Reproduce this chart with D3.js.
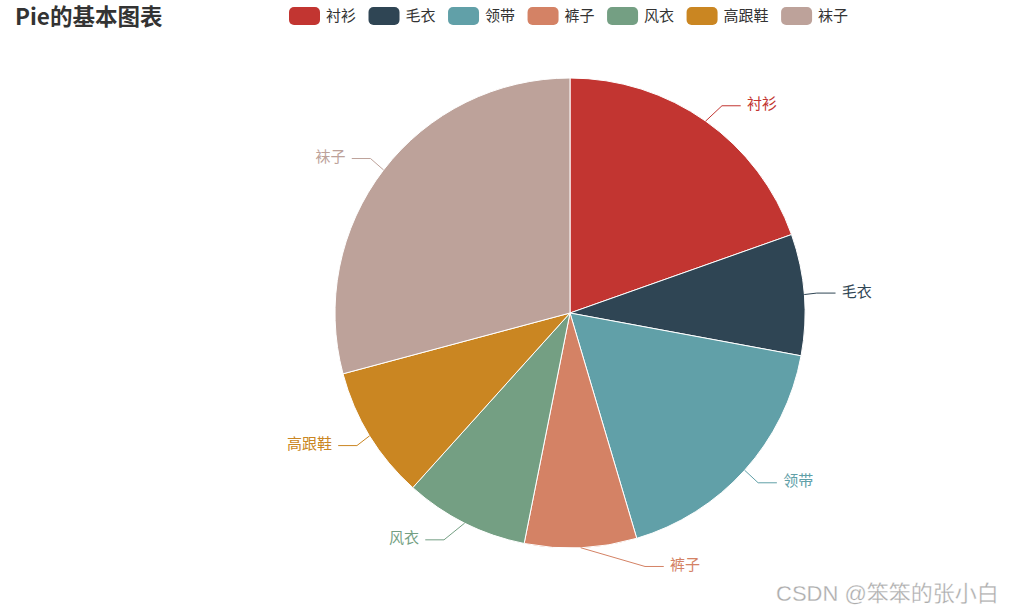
<!DOCTYPE html>
<html><head><meta charset="utf-8">
<script src="https://cdn.jsdelivr.net/npm/d3@7"></script>
<style>body{margin:0;background:#fff}svg{display:block}</style>
</head><body>
<svg id="c" width="1017" height="614"></svg>
<script>
const categories = ["衬衫","毛衣","领带","裤子","风衣","高跟鞋","袜子"];
const values = [94, 40, 84, 37, 41, 44, 140];
const colors = ["#c23531","#2f4554","#61a0a8","#d48265","#749f83","#ca8622","#bda29a"];
const titleText = "Pie的基本图表";

const svg = d3.select("#c");
const W = 1017, H = 614;
const cx = 570, cy = 313, R = 235;
const font = "'Microsoft YaHei','Noto Sans CJK SC',sans-serif";

// title
svg.append("text").attr("x", 15).attr("y", 25)
  .attr("font-family", font).attr("font-size", 22.5).attr("font-weight", "bold")
  .attr("fill", "#333").text(titleText);

// legend
const color = d3.scaleOrdinal().domain(categories).range(colors);
const lg = svg.append("g");
let lx = 289;
categories.forEach(c => {
  lg.append("rect").attr("x", lx).attr("y", 7).attr("width", 31).attr("height", 18)
    .attr("rx", 5).attr("fill", color(c));
  const t = lg.append("text").attr("x", lx + 37).attr("y", 16).attr("dy", "0.33em")
    .attr("font-family", font).attr("font-size", 15).attr("fill", "#333").text(c);
  const w = t.node().getComputedTextLength();
  lx += 31 + 6 + w + 12.5;
});

// pie
const data = categories.map((c, i) => ({name: c, value: values[i]}));
const pie = d3.pie().value(d => d.value).sort(null);
const arcs = pie(data);
const arc = d3.arc().innerRadius(0).outerRadius(R);
const g = svg.append("g").attr("transform", `translate(${cx},${cy})`);
g.selectAll("path").data(arcs).join("path")
  .attr("d", arc).attr("fill", d => color(d.data.name))
  .attr("stroke", "#fff").attr("stroke-width", 1).attr("stroke-linejoin", "round");

// labels (ECharts-4 style layout, coordinates relative to centre)
const L1 = 18.75, L2 = 18.75, gap = 6.25, LH = 20;
const items = arcs.map(a => {
  const m = (a.startAngle + a.endAngle) / 2;
  const sx = Math.sin(m), sy = -Math.cos(m);
  const p1 = [R * sx, R * sy];
  const p2 = [(R + L1) * sx, (R + L1) * sy];
  const dir = sx >= 0 ? 1 : -1;
  return {a, dir, p1, y: p2[1], x: p2[0] + dir * (L2 + gap)};
});
[1, -1].forEach(dir => {
  const list = items.filter(d => d.dir === dir).sort((u, v) => u.y - v.y);
  let lastY = -Infinity;
  list.forEach(d => { if (d.y - LH / 2 < lastY) d.y = lastY + LH / 2; lastY = d.y + LH / 2; });
  const changeX = (lst, isDown) => {
    let last = isDown ? Number.MAX_VALUE : 0;
    lst.forEach(d => {
      const dy = Math.abs(d.y);
      let dx = dy < R + L1 ? Math.sqrt((R + L1 + L2) ** 2 - dy * dy) : Math.abs(d.x);
      if (isDown && dx >= last) dx = last - 10;
      if (!isDown && dx <= last) dx = last + 10;
      d.x = dx * dir; last = dx;
    });
  };
  changeX(list.filter(d => d.y < 0), false);
  changeX(list.filter(d => d.y >= 0), true);
});
items.forEach(d => {
  const c = color(d.a.data.name);
  const p3 = [d.x - d.dir * gap, d.y];
  const p2 = [p3[0] - d.dir * L2, d.y];
  g.append("polyline").attr("points", [d.p1, p2, p3].map(p => p.join(",")).join(" "))
    .attr("fill", "none").attr("stroke", c).attr("stroke-width", 1);
  g.append("text").attr("x", d.x).attr("y", d.y).attr("dy", "0.24em")
    .attr("text-anchor", d.dir > 0 ? "start" : "end")
    .attr("font-family", font).attr("font-size", 15).attr("fill", c).text(d.a.data.name);
});

// watermark
svg.append("text").attr("x", 776).attr("y", 601)
  .attr("font-family", "'Liberation Sans','Noto Sans CJK SC',sans-serif").attr("font-size", 22)
  .attr("fill", "#acacac").attr("stroke", "#fff").attr("stroke-width", 0.3)
  .text("CSDN @笨笨的张小白");
</script>
</body></html>
